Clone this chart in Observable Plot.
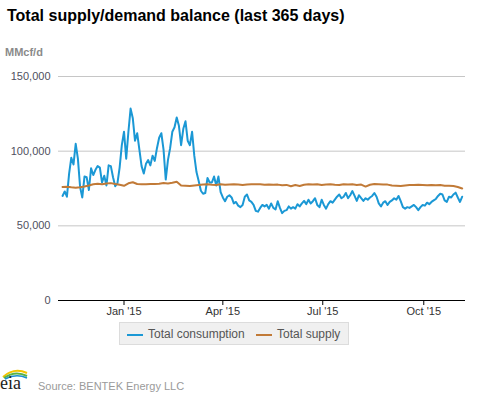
<!DOCTYPE html>
<html>
<head>
<meta charset="utf-8">
<script src="https://cdn.jsdelivr.net/npm/d3@7"></script>
<script src="https://cdn.jsdelivr.net/npm/@observablehq/plot@0.6"></script>
<style>
  html, body { margin: 0; padding: 0; background: #fff; }
  body { width: 477px; height: 393px; position: relative; overflow: hidden; font-family: "Liberation Sans", Arial, sans-serif; }
  .abs { position: absolute; white-space: nowrap; }
  #title { left: 7px; top: 7px; font-size: 16px; font-weight: bold; color: #000; }
  #unit { left: 5px; top: 46px; font-size: 11px; font-weight: bold; color: #8a8a8a; }
  #chart { left: 0; top: 40px; }
  #legend { left: 119px; top: 322px; width: 230px; height: 23px; background: #f0f0f0; border: 1px solid #dcdcdc; box-sizing: border-box; font-size: 12px; color: #555; }
  .sw { position: absolute; top: 11px; width: 16px; height: 2px; }
  .lt { position: absolute; top: 4px; }
  #source { left: 38px; top: 380px; font-size: 11px; color: #9a9a9a; }
  #logo { left: 0; top: 365px; }
</style>
</head>
<body>
<div id="title" class="abs"></div>
<div id="unit" class="abs"></div>
<div id="chart" class="abs"></div>
<div id="legend" class="abs"></div>
<svg id="logo" class="abs" width="32" height="27" viewBox="0 0 32 27">
  <path d="M3 12 Q14 2 27 8" fill="none" stroke="#f2c400" stroke-width="2"/>
  <path d="M4 13 Q15 5 27 11" fill="none" stroke="#5bb345" stroke-width="2"/>
  <path d="M5 14 Q16 8 27 13" fill="none" stroke="#1a8fd0" stroke-width="1.5"/>
  <text x="0" y="24" font-family="Liberation Serif, serif" font-size="18" fill="#222">eia</text>
</svg>
<div id="source" class="abs"></div>
<script>
const titleText = "Total supply/demand balance (last 365 days)";
const unitText = "MMcf/d";
const sourceText = "Source: BENTEK Energy LLC";
const seriesNames = ["Total consumption", "Total supply"];
const seriesColors = ["#1b98d5", "#c17a37"];

const startDate = "2014-11-06";
const consumptionStepDays = 2;
const supplyStepDays = 4;

const consumption = [
  70000,73000,69500,85000,95600,91100,104900,95000,76000,69000,
  83000,82500,74000,88500,84000,87500,90000,89000,79000,83500,
  77000,90500,90000,82500,76500,78500,89000,104000,113000,95000,
  113000,128500,122000,107000,112000,101000,90000,85000,91500,94000,
  90500,97000,93500,102000,109000,112000,101000,81000,94000,102000,
  113000,116000,122500,117000,104000,115000,120000,107000,104000,113000,
  97000,86000,80000,73500,71500,72000,82000,79000,79000,83000,
  77000,83000,72500,69000,66500,69500,70500,69000,65000,66000,
  63500,62500,64000,69500,71000,67000,66000,64000,60000,59500,
  62000,64000,63000,64000,61500,65000,62000,61000,66500,62000,
  58500,60000,60500,63000,61500,62500,61500,64500,63000,65000,
  66700,64500,67500,65000,66500,68500,64000,62500,67500,64000,
  61500,64500,66500,65500,67500,69500,71000,68500,69500,72000,
  68500,70500,73300,70000,66700,70500,68500,66700,68500,67500,
  69000,70000,72000,69500,65000,63000,65500,66500,64000,66000,
  67000,68500,67500,70000,66500,62500,61500,62500,62000,63000,
  64000,62500,60500,62500,64000,63500,65500,64500,66000,67000,
  68000,70000,71500,71000,67000,66000,69500,69000,71000,72200,
  69000,66000,69500
];

const supply = [
  76000,76200,75800,75500,75800,76300,77000,77800,78200,77800,
  78300,78600,78000,77500,76800,78500,79200,78000,77800,77800,
  78000,78000,78200,78700,78400,78800,79500,77000,76800,76600,
  77000,77300,77600,77800,77500,77400,77800,77500,77700,77900,
  77600,77300,77700,77900,77800,77800,77500,77700,77500,77600,
  77200,77400,76500,77300,76700,77500,77800,77600,77900,77400,
  77700,77800,77500,77300,77900,77600,77800,77400,77600,76300,
  77500,78000,77800,77600,77600,77000,76800,76600,77000,77300,
  77400,77500,77400,77200,77400,77200,77300,76800,76900,76700,
  76000,75000
];

const yTicks = [0, 50000, 100000, 150000];
const xTickDates = ["2015-01-01", "2015-04-01", "2015-07-01", "2015-10-01"];
const xTickLabels = ["Jan '15", "Apr '15", "Jul '15", "Oct '15"];

const DAY = 864e5;
const t0 = Date.parse(startDate + "T00:00:00Z");
const consData = consumption.map((v, i) => ({date: new Date(t0 + i * consumptionStepDays * DAY), value: v}));
const supData = supply.map((v, i) => ({date: new Date(t0 + i * supplyStepDays * DAY), value: v}));
const xTicks = xTickDates.map(s => new Date(s + "T00:00:00Z"));
const labelOf = new Map(xTicks.map((d, i) => [+d, xTickLabels[i]]));

document.getElementById("title").textContent = titleText;
document.getElementById("unit").textContent = unitText;
document.getElementById("source").textContent = sourceText;

const legend = document.getElementById("legend");
const legendPos = [[7, 28], [136, 157]];
seriesNames.forEach((name, i) => {
  const sw = document.createElement("div");
  sw.className = "sw";
  sw.style.left = legendPos[i][0] + "px";
  sw.style.background = seriesColors[i];
  legend.appendChild(sw);
  const lt = document.createElement("div");
  lt.className = "lt";
  lt.style.left = legendPos[i][1] + "px";
  lt.textContent = name;
  legend.appendChild(lt);
});

const chart = Plot.plot({
  width: 477,
  height: 282,
  marginTop: 36,
  marginLeft: 58,
  marginRight: 12,
  marginBottom: 22,
  style: {fontFamily: "'Liberation Sans', Arial, sans-serif", fontSize: "11px", color: "#333", background: "transparent", overflow: "visible"},
  x: {type: "utc", domain: [new Date(Date.UTC(2014, 10, 2, 8)), new Date(Date.UTC(2015, 10, 8))], label: null},
  y: {domain: [0, 150000], label: null},
  marks: [
    Plot.ruleY(yTicks.filter(d => d > 0), {stroke: "#c6c6c6", strokeWidth: 1}),
    Plot.lineY(consData, {x: "date", y: "value", stroke: seriesColors[0], strokeWidth: 2, curve: "linear"}),
    Plot.lineY(supData, {x: "date", y: "value", stroke: seriesColors[1], strokeWidth: 2}),
    Plot.ruleY([0], {stroke: "#000", strokeWidth: 1.2}),
    Plot.axisX({ticks: xTicks, tickFormat: d => labelOf.get(+d), tickSize: 5, tickPadding: 2, stroke: "#000", color: "#333", fontSize: 11}),
    Plot.axisY({ticks: yTicks, tickFormat: d3.format(","), tickSize: 0, tickPadding: 8, color: "#505060", fontSize: 11})
  ]
});
document.getElementById("chart").appendChild(chart);
</script>
</body>
</html>
